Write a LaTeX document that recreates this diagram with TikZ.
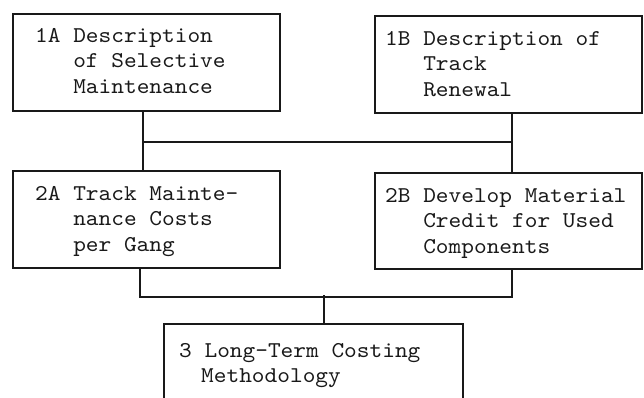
\documentclass[tikz,border=0pt]{standalone}
\usepackage{fontspec}
\setmonofont{lmmono10-regular.otf}[FakeStretch=1.07]
\usetikzlibrary{calc}
\newcommand{\boxlines}[1]{\begin{tabular}[t]{@{}l@{}}#1\end{tabular}}
\tikzset{
  box/.style={draw=black!90, line width=1.7pt, rectangle, anchor=north west, inner sep=0pt},
  txt/.style={anchor=base west, inner sep=0pt, font=\ttfamily\fontsize{22.6}{25.8}\selectfont, text=black!90},
  conn/.style={draw=black!90, line width=1.7pt},
}
\begin{document}
\begin{tikzpicture}[x=1pt,y=-1pt]
\useasboundingbox (0,0) rectangle (644,397);
\clip (0,0) rectangle (644,397);
\node[box, minimum width=267pt, minimum height=97pt] (a1) at (12,13) {};
\node[box, minimum width=267pt, minimum height=97pt] (b1) at (374,15) {};
\node[box, minimum width=267pt, minimum height=97pt] (a2) at (12,170) {};
\node[box, minimum width=267pt, minimum height=96pt] (b2) at (374,172) {};
\node[box, minimum width=299pt, minimum height=90pt] (c3) at (163,323) {};

\node[txt] (t1) at ($(a1.north west)+(23,29)$) {\boxlines{1A Description\\\phantom{1A }of Selective\\\phantom{1A }Maintenance}};
\node[txt] (t2) at ($(b1.north west)+(11,30)$) {\boxlines{1B Description of\\\phantom{1B }Track\\\phantom{1B }Renewal}};
\node[txt] (t3) at ($(a2.north west)+(23,30)$) {\boxlines{2A Track Mainte-\\\phantom{2A }nance Costs\\\phantom{2A }per Gang}};
\node[txt] (t4) at ($(b2.north west)+(11,30)$) {\boxlines{2B Develop Material\\\phantom{2B }Credit for Used\\\phantom{2B }Components}};
\node[txt] (t5) at ($(c3.north west)+(16,34)$) {\boxlines{3 Long-Term Costing\\\hspace*{22pt}Methodology}};

\coordinate (j1) at ($(a1.south west)+(131,30)$);
\coordinate (j2) at ($(b1.south west)+(138,28)$);
\coordinate (j3) at ($(a2.south west)+(128,28)$);
\coordinate (j4) at ($(b2.south west)+(138,27)$);
\coordinate (j5) at ($(c3.north west)+(161,-28)$);

\draw[conn] ($(a1.south west)+(131,0)$) -- ($(a2.north west)+(131,0)$);
\draw[conn] ($(b1.south west)+(138,0)$) -- ($(b2.north west)+(138,0)$);
\draw[conn] (j1) -- (j2);
\draw[conn] ($(a2.south west)+(128,0)$) -- (j3) -- (j4) -- ($(b2.south west)+(138,0)$);
\draw[conn] (j5) -- ($(c3.north west)+(161,0)$);
\end{tikzpicture}
\end{document}
